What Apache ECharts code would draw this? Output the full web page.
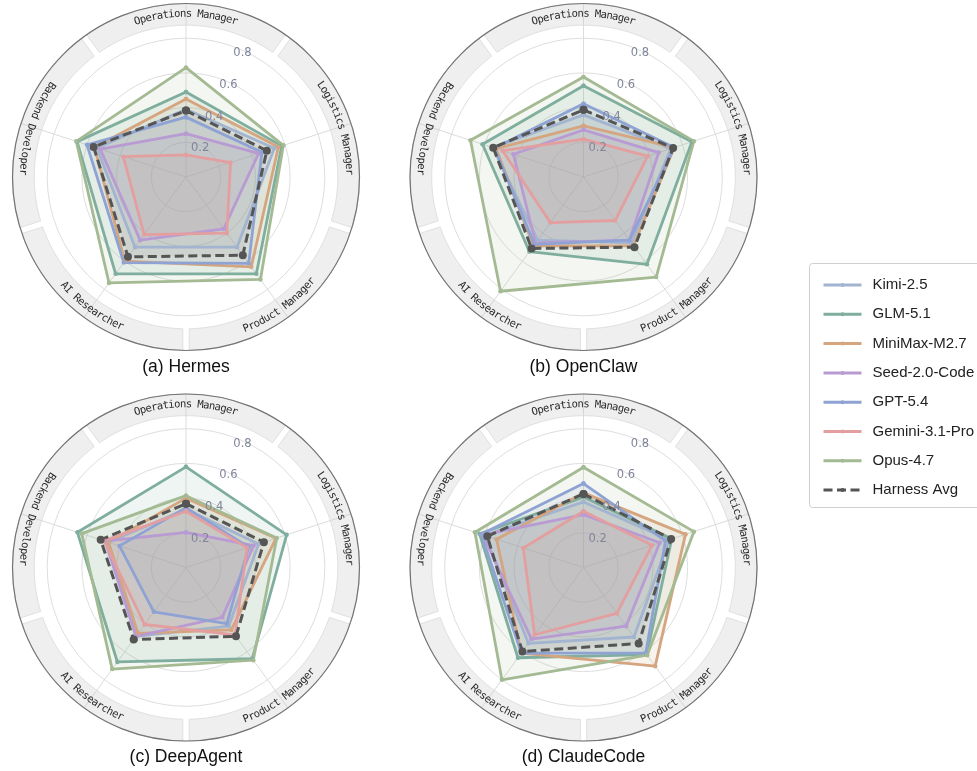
<!DOCTYPE html>
<html><head><meta charset="utf-8">
<script src="https://cdn.jsdelivr.net/npm/echarts@6/dist/echarts.min.js"></script>
<style>html,body{margin:0;padding:0;background:#fff}#c{width:977px;height:771px}</style>
</head><body><div id="c"></div>
<script>
// ---------- data ----------
const categories = ['Operations Manager','Logistics Manager','Product Manager','AI Researcher','Backend Developer'];
const panelTitles = ['(a) Hermes','(b) OpenClaw','(c) DeepAgent','(d) ClaudeCode'];
const modelNames = ['Kimi-2.5','GLM-5.1','MiniMax-M2.7','Seed-2.0-Code','GPT-5.4','Gemini-3.1-Pro','Opus-4.7','Harness Avg'];
const tickValues = [0.2, 0.4, 0.6, 0.8];
const tickLabels = ['0.2', '0.4', '0.6', '0.8'];

// values per model, order of categories (clockwise from top)
const hermesValues = [
  [0.39, 0.535, 0.50, 0.50, 0.54],   // Kimi-2.5
  [0.49, 0.58, 0.69, 0.69, 0.66],    // GLM-5.1
  [0.45, 0.56, 0.64, 0.60, 0.555],   // MiniMax-M2.7
  [0.25, 0.44, 0.37, 0.45, 0.52],    // Seed-2.0-Code
  [0.345, 0.46, 0.615, 0.61, 0.60],  // GPT-5.4
  [0.127, 0.27, 0.40, 0.41, 0.38],   // Gemini-3.1-Pro
  [0.63, 0.59, 0.73, 0.755, 0.665],  // Opus-4.7
  [0.383, 0.49, 0.557, 0.569, 0.56]  // Harness Avg
];
const openclawValues = [
  [0.358, 0.53, 0.47, 0.45, 0.55],
  [0.526, 0.657, 0.622, 0.531, 0.612],
  [0.295, 0.55, 0.49, 0.49, 0.53],
  [0.272, 0.456, 0.45, 0.47, 0.425],
  [0.422, 0.55, 0.45, 0.48, 0.54],
  [0.218, 0.389, 0.31, 0.325, 0.49],
  [0.576, 0.669, 0.713, 0.814, 0.685],
  [0.387, 0.543, 0.50, 0.509, 0.547]
];
const deepagentValues = [
  [0.335, 0.44, 0.418, 0.49, 0.47],
  [0.58, 0.61, 0.65, 0.673, 0.658],
  [0.40, 0.545, 0.445, 0.47, 0.47],
  [0.202, 0.41, 0.355, 0.49, 0.49],
  [0.345, 0.38, 0.40, 0.316, 0.403],
  [0.324, 0.37, 0.48, 0.406, 0.497],
  [0.414, 0.55, 0.66, 0.724, 0.632],
  [0.368, 0.472, 0.49, 0.513, 0.517]
];
const claudecodeValues = [
  [0.378, 0.52, 0.495, 0.54, 0.60],
  [0.406, 0.535, 0.62, 0.643, 0.63],
  [0.43, 0.618, 0.703, 0.61, 0.527],
  [0.305, 0.462, 0.418, 0.51, 0.61],
  [0.484, 0.497, 0.61, 0.61, 0.62],
  [0.324, 0.415, 0.327, 0.479, 0.365],
  [0.578, 0.669, 0.625, 0.80, 0.658],
  [0.424, 0.531, 0.541, 0.599, 0.583]
];
const panelValues = [hermesValues, openclawValues, deepagentValues, claudecodeValues];

// ---------- styles / layout ----------
const modelColors = ['#a2b4cf','#7fae9f','#d4a57f','#b99bd3','#8ea3d4','#e39f9f','#a4ba93','#555555'];
const panelCenters = [[186, 177], [583.5, 177], [186, 567.5], [583.5, 567.5]];
const panelRadius = 173.5;
const titleY = [367, 367, 757, 757];
const step = 360 / categories.length;
const tickAngle = 24;

function norm(a) { return ((a % 360) + 360) % 360; }

function bandRender(params, api) {
  const i = params.dataIndex;
  const c = api.coord([0, 0]);
  const p1 = api.coord([1, 0]);
  const R = Math.hypot(p1[0] - c[0], p1[1] - c[1]);
  const theta = i * step;
  const r0 = 0.875, r1 = 1.0, halfGap = 3.2;
  const oh = Math.asin(halfGap / (r1 * R)) * 180 / Math.PI;
  const ih = Math.asin(halfGap / (r0 * R)) * 180 / Math.PI;
  const pts = [];
  const N = 40;
  const o0 = theta - step / 2 + oh, o1 = theta + step / 2 - oh;
  for (let k = 0; k <= N; k++) pts.push(api.coord([r1, norm(o0 + (o1 - o0) * k / N)]));
  const i0 = theta - step / 2 + ih, i1 = theta + step / 2 - ih;
  for (let k = N; k >= 0; k--) pts.push(api.coord([r0, norm(i0 + (i1 - i0) * k / N)]));
  const children = [];
  children.push({type: 'polygon', shape: {points: pts}, style: {fill: '#efefef', stroke: '#e0e0e0', lineWidth: 1}});
  const sa = api.coord([r0, norm(theta)]), sb = api.coord([r1, norm(theta)]);
  children.push({type: 'line', shape: {x1: sa[0], y1: sa[1], x2: sb[0], y2: sb[1]}, style: {stroke: '#d6d6d6', lineWidth: 1}});
  // curved label, one glyph at a time
  const s = categories[i];
  const n = s.length;
  const rText = 0.94;
  const adv = 5.8;
  const d = adv / (rText * R) * 180 / Math.PI;
  const flip = theta > 90;
  for (let k = 0; k < n; k++) {
    let a, rot;
    if (!flip) { a = theta - (n - 1) / 2 * d + k * d; rot = -a * Math.PI / 180; }
    else { a = theta + (n - 1) / 2 * d - k * d; rot = (180 - a) * Math.PI / 180; }
    const p = api.coord([rText, norm(a)]);
    children.push({
      type: 'text', x: p[0], y: p[1], rotation: rot,
      style: {text: s[k], x: 0, y: 0, font: '10.6px "DejaVu Sans Mono"', fill: '#2a2a2a',
        align: 'center', verticalAlign: 'middle', textAlign: 'center', textVerticalAlign: 'middle'}
    });
  }
  return {type: 'group', children};
}

function tickRender(params, api) {
  const i = params.dataIndex;
  const p = api.coord([tickValues[i], tickAngle]);
  const children = [{
    type: 'text', x: p[0], y: p[1] + 3,
    style: {text: tickLabels[i], x: 0, y: 0, font: '11.5px "DejaVu Sans"', fill: '#80859a',
      align: 'center', verticalAlign: 'middle', textAlign: 'center', textVerticalAlign: 'middle'}
  }];
  if (i === 0) {
    const c = api.coord([0, 0]);
    const p1 = api.coord([1, 0]);
    const R = Math.hypot(p1[0] - c[0], p1[1] - c[1]);
    children.push({type: 'circle', shape: {cx: c[0], cy: c[1], r: R}, style: {fill: null, stroke: '#737373', lineWidth: 1.2}});
  }
  return {type: 'group', children};
}

const polar = [], angleAxis = [], radiusAxis = [], series = [];
panelCenters.forEach((c, p) => {
  polar.push({center: c, radius: panelRadius});
  angleAxis.push({polarIndex: p, type: 'value', min: 0, max: 360, interval: step, startAngle: 90, clockwise: true,
    axisLine: {show: false}, axisTick: {show: false}, axisLabel: {show: false},
    splitLine: {show: true, lineStyle: {color: '#dcdcdc', width: 1}}});
  radiusAxis.push({polarIndex: p, type: 'value', min: 0, max: 1, interval: 0.2,
    axisLine: {show: false}, axisTick: {show: false}, axisLabel: {show: false},
    splitLine: {show: true, lineStyle: {color: '#dedede', width: 1}}});
  series.push({type: 'custom', coordinateSystem: 'polar', polarIndex: p, silent: true, clip: false, z: 1,
    renderItem: bandRender, data: categories.map((name, i) => [0.94, i * step])});
  panelValues[p].forEach((vals, m) => {
    const isAvg = m === modelNames.length - 1;
    const pts = vals.concat([vals[0]]).map((v, k) => [v, (k % categories.length) * step]);
    series.push({
      type: 'line', name: modelNames[m], coordinateSystem: 'polar', polarIndex: p, data: pts,
      symbol: 'circle', symbolSize: isAvg ? 8 : 4.5, showSymbol: true,
      lineStyle: {color: modelColors[m], width: isAvg ? 3 : 2.8, type: isAvg ? [9, 4.5] : 'solid'},
      itemStyle: {color: modelColors[m]},
      areaStyle: {color: modelColors[m], opacity: isAvg ? 0.05 : 0.13},
      z: 2, emphasis: {disabled: true}, silent: true, animation: false
    });
  });
  series.push({type: 'custom', coordinateSystem: 'polar', polarIndex: p, silent: true, clip: false, z: 5,
    renderItem: tickRender, data: tickValues.map(v => [v, tickAngle])});
});

const graphic = [
  {type: 'rect', shape: {x: 809.5, y: 263.5, width: 200, height: 244, r: 3}, style: {fill: '#fff', stroke: '#cfcfcf', lineWidth: 1}, z: 0}
];
panelTitles.forEach((t, p) => {
  graphic.push({type: 'text', x: panelCenters[p][0], y: titleY[p],
    style: {text: t, font: '17.5px "Liberation Sans"', fill: '#111', align: 'center', verticalAlign: 'middle',
      textAlign: 'center', textVerticalAlign: 'middle'}});
});

const chart = echarts.init(document.getElementById('c'), null, {renderer: 'canvas'});
chart.setOption({
  animation: false,
  backgroundColor: '#fff',
  polar, angleAxis, radiusAxis, series, graphic,
  legend: {
    data: modelNames, orient: 'vertical', left: 822, top: 277, padding: 0,
    itemWidth: 38, itemHeight: 5, itemGap: 13.3, selectedMode: false, z: 4,
    lineStyle: {width: 3},
    textStyle: {fontFamily: 'Liberation Sans', fontSize: 15, color: '#222', lineHeight: 16, padding: [0, 0, 0, 6]}
  }
});
</script></body></html>
